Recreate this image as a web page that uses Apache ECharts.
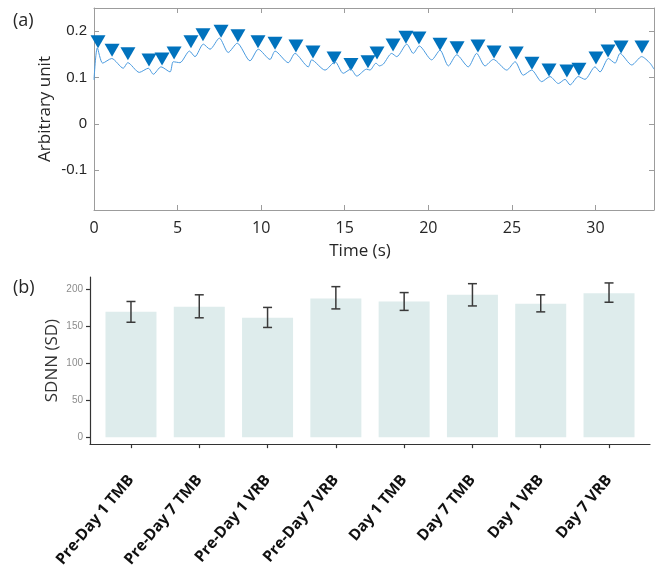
<!DOCTYPE html>
<html><head><meta charset="utf-8">
<script src="https://cdn.jsdelivr.net/npm/echarts@6/dist/echarts.min.js"></script>
<style>html,body{margin:0;padding:0;background:#fff}#c{width:662px;height:570px}</style>
</head><body><div id="c"></div>
<script>
// Panel (a): signal trace (time in s, arbitrary unit)
const lineT = [0.00,0.20,0.52,1.06,1.75,2.02,2.71,3.25,3.55,4.01,4.55,4.74,5.14,5.71,6.04,6.54,6.94,7.50,8.03,8.57,9.33,9.83,10.53,10.83,11.62,12.02,12.82,13.02,13.82,14.42,14.91,15.36,15.72,16.31,16.51,16.87,17.07,17.31,17.81,18.11,18.71,19.10,19.46,20.20,20.70,21.20,21.70,22.39,22.89,23.39,23.89,24.69,25.19,25.68,26.18,26.78,27.28,27.78,28.18,28.48,28.97,29.37,29.97,30.27,30.77,31.17,31.47,32.17,32.76,33.26,33.50];
const lineV = [0.095,0.164,0.131,0.141,0.120,0.132,0.111,0.120,0.107,0.123,0.112,0.134,0.132,0.157,0.145,0.172,0.161,0.185,0.154,0.174,0.136,0.161,0.139,0.157,0.132,0.152,0.123,0.138,0.116,0.134,0.109,0.118,0.103,0.118,0.116,0.131,0.125,0.129,0.152,0.145,0.172,0.152,0.168,0.138,0.159,0.125,0.149,0.123,0.152,0.125,0.139,0.116,0.134,0.105,0.116,0.091,0.102,0.087,0.096,0.084,0.102,0.096,0.123,0.112,0.141,0.131,0.152,0.127,0.145,0.131,0.118];
// Detected peaks (marker positions)
const peakT = [0.24,1.08,2.03,3.29,4.07,4.79,5.80,6.52,7.60,8.61,9.81,10.83,12.08,13.10,14.36,15.37,16.39,16.93,17.89,18.66,19.44,20.70,21.72,22.97,23.93,25.26,26.20,27.22,28.29,29.01,30.03,30.75,31.53,32.78];
const peakV = [0.177,0.159,0.151,0.138,0.140,0.153,0.177,0.192,0.200,0.190,0.177,0.174,0.168,0.155,0.142,0.128,0.134,0.153,0.170,0.187,0.185,0.172,0.164,0.168,0.155,0.153,0.131,0.116,0.114,0.118,0.142,0.157,0.166,0.166];
const timeTicks = [0,5,10,15,20,25,30];
const timeTickMarks = [5,10,15,20,25,30];
const ampTicks = [-0.1,0,0.1,0.2];

// Panel (b): SDNN bars
const categories = ['Pre-Day 1 TMB','Pre-Day 7 TMB','Pre-Day 1 VRB','Pre-Day 7 VRB','Day 1 TMB','Day 7 TMB','Day 1 VRB','Day 7 VRB'];
const sdnnMean = [169,176,161,187,183,192,180,194];
const sdnnLow  = [155,161,148,173,171,177,169,182];
const sdnnHigh = [183,192,175,203,195,207,192,208];
const sdnnTicks = [0,50,100,150,200];
const catPos = [1,2,3,4,5,6,7,8];

const chart = echarts.init(document.getElementById('c'), null, {renderer:'canvas'});
const boxGray = '#9c9c9c';
const sans = '"Open Sans", "DejaVu Sans", sans-serif';
const arial = '"Liberation Sans", Arial, sans-serif';

function boxAxisX(pos, showLabel){
  return {
    type:'value', gridIndex:0, position:pos, min:0, max:33.5,
    axisLine:{show:true, onZero:false, lineStyle:{color:boxGray, width:1}},
    axisTick:{show:true, inside:true, length:5, customValues:timeTickMarks, lineStyle:{color:boxGray}},
    axisLabel:{show:showLabel, customValues:timeTicks, color:'#262626', fontSize:16, fontFamily:sans, margin:10},
    splitLine:{show:false}
  };
}
function boxAxisY(pos, showLabel){
  return {
    type:'value', gridIndex:0, position:pos, min:-0.186, max:0.25,
    axisLine:{show:true, onZero:false, lineStyle:{color:boxGray, width:1}},
    axisTick:{show:true, inside:true, length:5, customValues:ampTicks, lineStyle:{color:boxGray}},
    axisLabel:{show:showLabel, customValues:ampTicks, color:'#262626', fontSize:15, fontFamily:arial, margin:7,
      formatter: v => (Math.abs(v) < 1e-9 ? '0' : (+v).toFixed(1))},
    splitLine:{show:false}
  };
}

const xTop0 = boxAxisX('bottom', true);
xTop0.name = 'Time (s)';
xTop0.nameLocation = 'middle';
xTop0.nameGap = 33;
xTop0.nameMoveOverlap = false;
xTop0.nameTextStyle = {fontSize:17, color:'#262626', fontFamily:sans, padding:[0,28,0,0]};
const yTop0 = boxAxisY('left', true);
yTop0.name = 'Arbitrary unit';
yTop0.nameLocation = 'middle';
yTop0.nameGap = 40;
yTop0.nameMoveOverlap = false;
yTop0.nameTextStyle = {fontSize:17, color:'#262626', fontFamily:sans};

const option = {
  animation:false,
  backgroundColor:'#fff',
  title:[
    {text:'(a)', left:8, top:7, textStyle:{fontSize:18, fontWeight:'normal', color:'#262626', fontFamily:sans}},
    {text:'(b)', left:8, top:274, textStyle:{fontSize:18, fontWeight:'normal', color:'#262626', fontFamily:sans}}
  ],
  grid:[
    {left:94, top:8, width:560, height:202},
    {left:90, top:277, width:560, height:169}
  ],
  xAxis:[
    xTop0,
    boxAxisX('top', false),
    {
      type:'value', gridIndex:1, min:0.4, max:8.6,
      axisLine:{show:true, onZero:false, lineStyle:{color:'#333', width:1.2}},
      axisTick:{show:true, inside:false, length:4, customValues:catPos, lineStyle:{color:'#333', width:1.2}},
      axisLabel:{customValues:catPos, rotate:50, margin:33, color:'#111', fontSize:15.5, fontWeight:'bold', fontFamily:sans,
        formatter: v => categories[Math.round(v)-1]},
      splitLine:{show:false}
    }
  ],
  yAxis:[
    yTop0,
    boxAxisY('right', false),
    {
      type:'value', gridIndex:1, min:-9.3, max:216,
      name:'SDNN (SD)', nameLocation:'middle', nameGap:29, nameMoveOverlap:false,
      nameTextStyle:{fontSize:17, color:'#333', fontFamily:sans},
      axisLine:{show:true, onZero:false, lineStyle:{color:'#333', width:1.2}},
      axisTick:{show:true, inside:false, length:4, customValues:sdnnTicks, lineStyle:{color:'#333', width:1.2}},
      axisLabel:{customValues:sdnnTicks, color:'#8c8c8c', fontSize:10, fontFamily:arial, margin:7},
      splitLine:{show:false}
    }
  ],
  series:[
    {
      type:'line', xAxisIndex:0, yAxisIndex:0,
      data: lineT.map((t,i)=>[t, lineV[i]]),
      showSymbol:false, smooth:0.25,
      lineStyle:{color:'#4a9be0', width:1}
    },
    {
      type:'scatter', xAxisIndex:0, yAxisIndex:0,
      data: peakT.map((t,i)=>[t, peakV[i]]),
      symbol:'triangle', symbolRotate:180, symbolSize:[15,13],
      itemStyle:{color:'#0072BD', opacity:1}
    },
    {
      type:'bar', xAxisIndex:2, yAxisIndex:2,
      data: catPos.map((p,i)=>[p, sdnnMean[i]]),
      barWidth:51,
      itemStyle:{color:'#deecec'}
    },
    {
      type:'custom', xAxisIndex:2, yAxisIndex:2,
      data: catPos.map((p,i)=>[p, sdnnLow[i], sdnnHigh[i]]),
      encode:{x:0, y:[1,2]},
      z:5,
      renderItem:(params, api) => {
        const x = api.value(0);
        const lo = api.coord([x, api.value(1)]);
        const hi = api.coord([x, api.value(2)]);
        const w = 4.5;
        const st = {stroke:'#3a3a3a', lineWidth:1.5};
        return {type:'group', children:[
          {type:'line', shape:{x1:lo[0], y1:lo[1], x2:hi[0], y2:hi[1]}, style:st},
          {type:'line', shape:{x1:lo[0]-w, y1:lo[1], x2:lo[0]+w, y2:lo[1]}, style:st},
          {type:'line', shape:{x1:hi[0]-w, y1:hi[1], x2:hi[0]+w, y2:hi[1]}, style:st}
        ]};
      }
    }
  ]
};
chart.setOption(option);
</script>
</body></html>
